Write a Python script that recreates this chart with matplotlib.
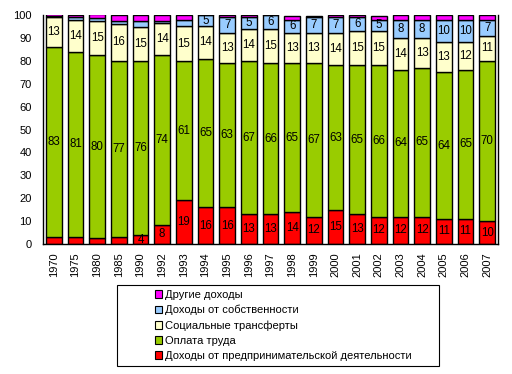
import matplotlib
matplotlib.use("Agg")
import matplotlib.pyplot as plt
from matplotlib.patches import Patch, Rectangle
import numpy as np

plt.rcParams['font.family'] = ['Liberation Sans', 'DejaVu Sans']

years = ['1970', '1975', '1980', '1985', '1990', '1992', '1993', '1994', '1995', '1996', '1997',
         '1998', '1999', '2000', '2001', '2002', '2003', '2004', '2005', '2006', '2007']
entrepreneurial = [3, 3, 2.5, 3, 3.8, 8.5, 19, 16, 16, 13, 13, 14, 12, 15, 13, 12, 12, 12, 11, 11, 10]
wages = [83, 81, 80, 77, 76, 74, 61, 65, 63, 67, 66, 65, 67, 63, 65, 66, 64, 65, 64, 65, 70]
social = [13, 14, 15, 16, 15, 14, 15, 14, 13, 14, 15, 13, 13, 14, 15, 15, 14, 13, 13, 12, 11]
prop_income = [0.6, 1, 1, 1.5, 2.7, 1, 3, 5, 7, 5, 6, 6, 7, 7, 6, 5, 8, 8, 10, 10, 7]
other = [1, 1, 2, 2.5, 2.5, 2.5, 2, 0.7, 1, 1, 0.7, 1.5, 0.7, 1, 1, 1.5, 2, 2, 2, 2, 2]

series = [
    ('Доходы от предпринимательской деятельности', entrepreneurial, '#FF0000', 3.5),
    ('Оплата труда', wages, '#99CC00', 0),
    ('Социальные трансферты', social, '#FFFFCC', 0),
    ('Доходы от собственности', prop_income, '#99CCFF', 5),
    ('Другие доходы', other, '#FF00FF', 999),
]

W, H = 512, 374
fig = plt.figure(figsize=(W / 100, H / 100), dpi=100)
ax = fig.add_axes([43 / W, (H - 244) / H, 455 / W, 229 / H])

x = np.arange(len(years))
bottom = np.zeros(len(years))
handles = []
for name, vals, color, minlab in series:
    vals = np.array(vals, dtype=float)
    ax.bar(x, vals, bottom=bottom, width=0.72, color=color, edgecolor='black', linewidth=1.0)
    for xi, v, b in zip(x, vals, bottom):
        if v >= minlab:
            ax.text(xi, b + v / 2, '%d' % round(v), ha='center', va='center', fontsize=8.3, color='black')
    bottom += vals
    handles.append(Patch(facecolor=color, edgecolor='black', linewidth=0.8, label=name))

ax.set_xlim(-0.5, len(years) - 0.5)
ax.set_ylim(0, 100)
ax.set_yticks(range(0, 101, 10))
ax.set_xticks(x)
ax.set_xticklabels(years, rotation=90, fontsize=8)
ax.tick_params(axis='y', length=0, labelsize=8, pad=8)
ax.tick_params(axis='x', length=0, pad=6)
ax.spines['top'].set_visible(False)
for s in ['left', 'bottom', 'right']:
    ax.spines[s].set_linewidth(1.0)
    ax.spines[s].set_color('black')

# legend frame
fig.patches.append(Rectangle((117 / W, 1 - 366 / H), (439 - 117) / W, (366 - 285) / H,
                             transform=fig.transFigure, fill=False, edgecolor='black', linewidth=0.8))
fig.legend(handles=handles[::-1], loc='upper left', bbox_to_anchor=(147 / W, 1 - 282 / H),
           frameon=False, fontsize=8, handlelength=0.65, handleheight=0.65, handletextpad=0.3,
           labelspacing=0.45, borderpad=0.2)

fig.savefig('out.png', dpi=100, facecolor='white')
